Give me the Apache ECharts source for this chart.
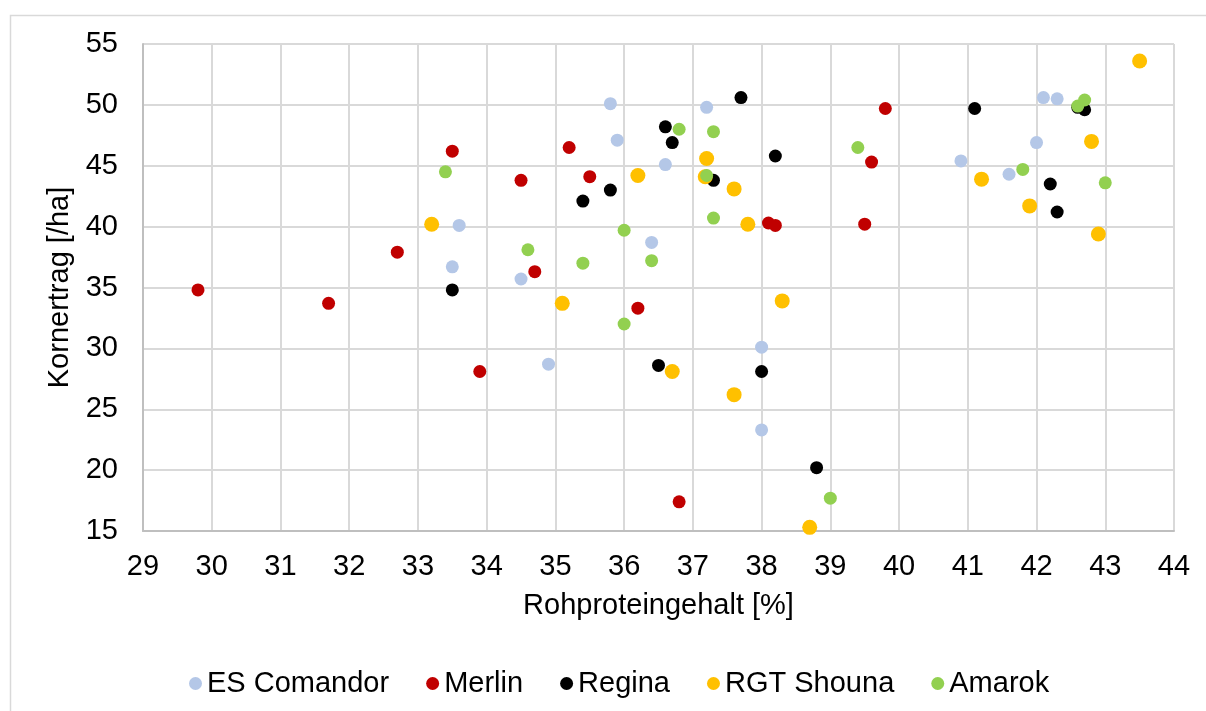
<!DOCTYPE html>
<html>
<head>
<meta charset="utf-8">
<script src="https://cdn.jsdelivr.net/npm/echarts@6/dist/echarts.min.js"></script>
<style>
  html, body { margin: 0; padding: 0; background: #fff; }
  #chart { width: 1206px; height: 711px; }
</style>
</head>
<body>
<div id="chart"></div>
<script>
var esComandor = [[35.8,50.1],[37.2,49.8],[35.9,47.1],[36.6,45.1],[33.6,40.1],[36.4,38.7],[33.5,36.7],[34.5,35.7],
                  [38.0,30.1],[34.9,28.7],[38.0,23.3],[42.1,50.6],[42.3,50.5],[42.0,46.9],[40.9,45.4],[41.6,44.3]];
var merlin = [[29.8,34.8],[31.7,33.7],[32.7,37.9],[33.5,46.2],[35.2,46.5],[34.5,43.8],[35.5,44.1],[38.1,40.3],
              [38.2,40.1],[34.7,36.3],[36.2,33.3],[33.9,28.1],[36.8,17.4],[39.8,49.7],[39.6,45.3],[39.5,40.2]];
var regina = [[37.7,50.6],[36.6,48.2],[36.7,46.9],[38.2,45.8],[37.3,43.8],[35.8,43.0],[35.4,42.1],[33.5,34.8],
              [36.5,28.6],[38.0,28.1],[38.8,20.2],[41.1,49.7],[42.6,49.8],[42.7,49.6],[42.2,43.5],[42.3,41.2]];
var rgtShouna = [[37.2,45.6],[36.2,44.2],[37.18,44.1],[37.6,43.1],[37.8,40.2],[33.2,40.2],[35.1,33.7],[38.3,33.9],
                 [36.7,28.1],[37.6,26.2],[38.7,15.3],[43.5,53.6],[42.8,47.0],[41.2,43.9],[41.9,41.7],[42.9,39.4]];
var amarok = [[36.8,48.0],[37.3,47.8],[33.4,44.5],[37.2,44.2],[37.3,40.7],[36.0,39.7],[36.4,37.2],[34.6,38.1],
              [35.4,37.0],[36.0,32.0],[39.0,17.7],[42.6,49.9],[42.7,50.4],[39.4,46.5],[41.8,44.7],[43.0,43.6]];

var seriesNames = ['ES Comandor', 'Merlin', 'Regina', 'RGT Shouna', 'Amarok'];
var seriesData = [esComandor, merlin, regina, rgtShouna, amarok];
var seriesColors = ['#B4C7E7', '#C00000', '#000000', '#FFC000', '#92D050'];
var markerSizes = [13, 13, 13, 15, 13];

var font = '"Liberation Sans", Arial, sans-serif';

var chart = echarts.init(document.getElementById('chart'), null, { renderer: 'canvas' });

chart.setOption({
  animation: false,
  textStyle: { fontFamily: font, color: '#000' },
  graphic: [{
    type: 'rect',
    shape: { x: 10.5, y: 15.5, width: 1300, height: 800 },
    style: { fill: 'none', stroke: '#D9D9D9', lineWidth: 1.5 },
    silent: true
  }],
  grid: { left: 143, top: 44, right: 32, bottom: 180 },
  xAxis: {
    type: 'value',
    min: 29, max: 44, interval: 1,
    name: 'Rohproteingehalt [%]',
    nameLocation: 'middle',
    nameGap: 60,
    nameTextStyle: { fontSize: 29, color: '#000', fontFamily: font },
    axisLine: { show: true, onZero: false, lineStyle: { color: '#BFBFBF', width: 2 } },
    axisTick: { show: false },
    axisLabel: { fontSize: 29, color: '#000', margin: 21, fontFamily: font },
    splitLine: { show: true, lineStyle: { color: '#D9D9D9', width: 2 } }
  },
  yAxis: {
    type: 'value',
    min: 15, max: 55, interval: 5,
    name: 'Kornertrag [/ha]',
    nameLocation: 'middle',
    nameGap: 66,
    nameTextStyle: { fontSize: 29, color: '#000', fontFamily: font },
    axisLine: { show: true, onZero: false, lineStyle: { color: '#BFBFBF', width: 2 } },
    axisTick: { show: false },
    axisLabel: { fontSize: 29, color: '#000', margin: 25, fontFamily: font },
    splitLine: { show: true, lineStyle: { color: '#D9D9D9', width: 2 } }
  },
  legend: {
    left: 184,
    top: 664,
    icon: 'circle',
    itemWidth: 13,
    itemHeight: 13,
    itemGap: 37,
    textStyle: { fontSize: 29, color: '#000', fontFamily: font },
    data: seriesNames
  },
  series: seriesNames.map(function (name, i) {
    return {
      name: name,
      type: 'scatter',
      data: seriesData[i],
      symbol: 'circle',
      symbolSize: markerSizes[i],
      itemStyle: { color: seriesColors[i], opacity: 1 }
    };
  })
});
</script>
</body>
</html>
